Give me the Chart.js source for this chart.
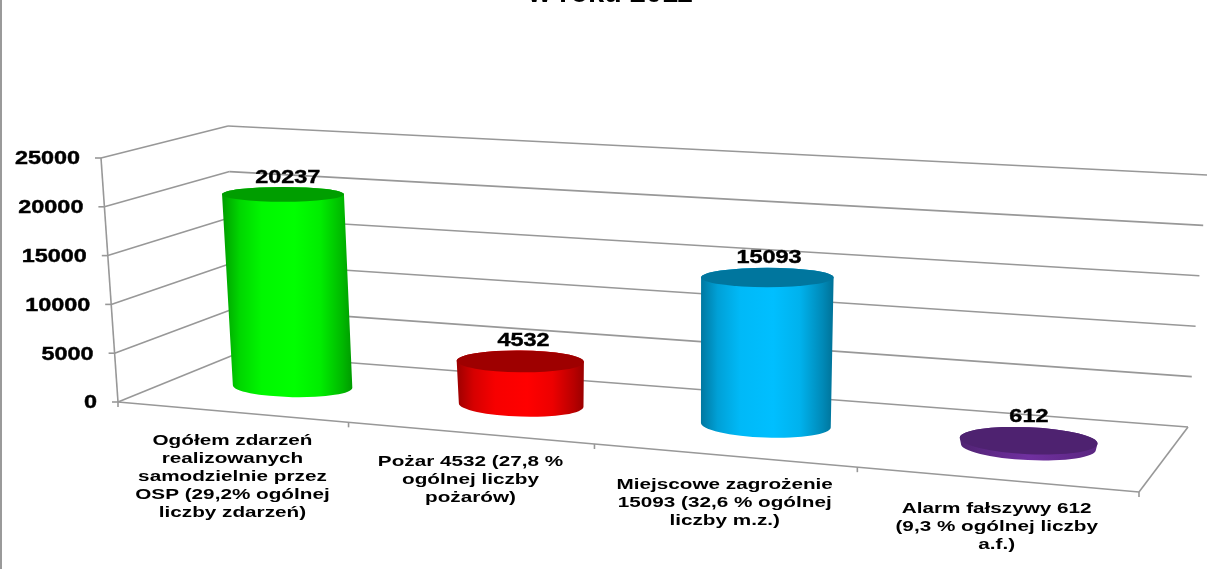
<!DOCTYPE html>
<html lang="pl">
<head>
<meta charset="utf-8">
<style>html,body{margin:0;padding:0;background:#fff}canvas{display:block}</style>
<script src="https://cdn.jsdelivr.net/npm/chart.js@4/dist/chart.umd.js"></script>
</head>
<body>
<canvas id="c" width="1209" height="569"></canvas>
<script>
const titleText = "w roku 2011";
const categories = [
  ["Ogółem zdarzeń", "realizowanych", "samodzielnie przez", "OSP (29,2% ogólnej", "liczby zdarzeń)"],
  ["Pożar 4532 (27,8 %", "ogólnej liczby", "pożarów)"],
  ["Miejscowe zagrożenie", "15093 (32,6 % ogólnej", "liczby m.z.)"],
  ["Alarm fałszywy 612", "(9,3 % ogólnej liczby", "a.f.)"]
];
const values = [20237, 4532, 15093, 612];
const barColors = ["#00ff00", "#ff0000", "#00bfff", "#7030a0"];
const yMax = 25000;
const yStep = 5000;

// 3D frame of the plot, as it appears in the picture
const FL0 = [118, 402], FL1 = [101, 158];      // front-left edge: value 0 / max
const BL0 = [236, 354], BL1 = [228, 126];      // back-left edge
const BR0 = [1188, 427], BR1 = [1207, 175];    // back-right edge
const FR0 = [1139, 492];                       // front-right floor corner
const PERSP = -0.125;
const STRETCH_VAL = 1.3, STRETCH_CAT = 1.38;
const GRID = "#989898";

const lerp = (a, b, t) => [a[0] + (b[0] - a[0]) * t, a[1] + (b[1] - a[1]) * t];
function front(u) {
  const x = ((FR0[0] - FL0[0] + PERSP * FR0[0]) * u + FL0[0]) / (PERSP * u + 1);
  return [x, FL0[1] + (x - FL0[0]) * (FR0[1] - FL0[1]) / (FR0[0] - FL0[0])];
}
function floorPt(u, v) {
  const f = front(u);
  const dL = [BL0[0] - FL0[0], BL0[1] - FL0[1]], dR = [BR0[0] - FR0[0], BR0[1] - FR0[1]];
  const d = lerp(dL, dR, u);
  return [f[0] + d[0] * v, f[1] + d[1] * v];
}
function shade(hex, k) {
  const n = parseInt(hex.slice(1), 16);
  const c = [n >> 16 & 255, n >> 8 & 255, n & 255].map(q => Math.round(q * k));
  return `rgb(${c[0]},${c[1]},${c[2]})`;
}
function seg(ctx, a, b) { ctx.beginPath(); ctx.moveTo(a[0], a[1]); ctx.lineTo(b[0], b[1]); ctx.stroke(); }

function cylinder(ctx, el, color, u) {
  const kh = 0.965 + 0.06 * u, kw = 0.925 + 0.165 * u, lean = -0.065 + 0.12 * u;
  const h = (el.base - el.y) * kh;
  const rx = el.width / 2 * kw;
  const b = floorPt(u, 0.55); b[0] += 1; b[1] += 2;
  const t = [b[0] + lean * h, b[1] - h];
  const ryOf = (y, r) => r * (0.122 + (y - 195) * 0.0003);
  const rotOf = y => Math.max(0, (y - 340) * 0.025) * Math.PI / 180;
  const rt = rx * 1.01, rb = rx * 0.99;
  const isDark = color === "#7030a0";
  const g = ctx.createLinearGradient(Math.min(t[0], b[0]) - rx, 0, Math.max(t[0], b[0]) + rx, 0);
  if (isDark) {
    g.addColorStop(0, shade(color, 0.72)); g.addColorStop(0.5, color); g.addColorStop(1, shade(color, 0.8));
  } else {
    g.addColorStop(0, shade(color, 0.62));
    g.addColorStop(0.13, shade(color, 0.84));
    g.addColorStop(0.3, shade(color, 0.97));
    g.addColorStop(0.55, color);
    g.addColorStop(0.75, shade(color, 0.93));
    g.addColorStop(0.92, shade(color, 0.72));
    g.addColorStop(1, shade(color, 0.6));
  }
  ctx.beginPath();
  ctx.ellipse(b[0], b[1], rb, ryOf(b[1], rb), rotOf(b[1]), 0, Math.PI);
  ctx.ellipse(t[0], t[1], rt, ryOf(t[1], rt), rotOf(t[1]), Math.PI, 2 * Math.PI);
  ctx.closePath();
  ctx.fillStyle = g; ctx.fill();
  ctx.beginPath();
  ctx.ellipse(t[0], t[1], rt, ryOf(t[1], rt), rotOf(t[1]), 0, 2 * Math.PI);
  ctx.fillStyle = shade(color, isDark ? 0.7 : 0.62); ctx.fill();
  return { x: t[0], y: t[1], ry: ryOf(t[1], rt), u };
}

const scene = {
  id: "scene",
  beforeDraw(chart) {
    const ctx = chart.ctx, sx = chart.scales.x, sy = chart.scales.y;
    ctx.save();
    ctx.fillStyle = "#fff"; ctx.fillRect(0, 0, chart.width, chart.height);
    ctx.fillStyle = "#9a9a9a"; ctx.fillRect(0, 0, 2, chart.height);
    ctx.restore();
    // place native tick labels along the slanted axes, widened like the picture
    sy.getLabelItems().forEach((it, i) => {
      const f = sy.ticks[i].value / yMax;
      const ax = lerp(FL0, FL1, f);
      it.options.textAlign = "right";
      it.options.translation = [(ax[0] - 21) / STRETCH_VAL, ax[1] + 1.5];
    });
    sx.getLabelItems().forEach((it, i) => {
      const p = front((i + 0.5) / categories.length);
      it.options.textAlign = "center";
      it.options.translation = [(p[0] + 1) / STRETCH_CAT, p[1] + 29 - 9];
    });
    const wrap = (scale, s) => {
      if (scale._wrapped) return;
      scale._wrapped = true;
      const orig = scale.drawLabels;
      scale.drawLabels = function (area) {
        ctx.save(); ctx.scale(s, 1); orig.call(this, area); ctx.restore();
      };
    };
    wrap(sy, STRETCH_VAL); wrap(sx, STRETCH_CAT);
    if (chart.titleBlock && !chart.titleBlock._wrapped) {
      chart.titleBlock._wrapped = true;
      const od = chart.titleBlock.draw;
      chart.titleBlock.draw = function () {
        ctx.save(); ctx.translate(41, 0); od.call(this); ctx.restore();
      };
    }
  },
  beforeDatasetsDraw(chart) {
    const ctx = chart.ctx, sy = chart.scales.y;
    ctx.save();
    ctx.strokeStyle = GRID; ctx.lineWidth = 1.6;
    sy.ticks.forEach(tk => {
      const f = (sy.bottom - sy.getPixelForValue(tk.value)) / sy.height;
      const a = lerp(FL0, FL1, f), b = lerp(BL0, BL1, f), c = lerp(BR0, BR1, f);
      seg(ctx, [a[0] - 6, a[1]], a);
      seg(ctx, a, b);
      seg(ctx, b, c);
    });
    seg(ctx, FL0, FL1);
    seg(ctx, FL0, FR0);
    seg(ctx, FR0, BR0);
    for (let i = 0; i <= categories.length; i++) {
      const p = front(i / categories.length);
      seg(ctx, p, [p[0], p[1] + 5]);
    }
    ctx.restore();
  },
  beforeDatasetDraw(chart, args) {
    const ctx = chart.ctx, sx = chart.scales.x;
    const meta = args.meta;
    const tops = [];
    ctx.save();
    meta.data.forEach((el, i) => {
      const u = (el.x - sx.left) / sx.width;
      tops.push(cylinder(ctx, el, chart.data.datasets[0].backgroundColor[i], u));
    });
    ctx.fillStyle = "#000"; ctx.strokeStyle = "#000"; ctx.lineWidth = 0.4;
    ctx.font = 'bold 18px "Liberation Sans"';
    ctx.textAlign = "center"; ctx.textBaseline = "middle";
    tops.forEach((t, i) => {
      ctx.save();
      ctx.translate(t.x + 3.5 - 6 * t.u + 2, t.y - (7 + 1.25 * t.ry));
      ctx.scale(STRETCH_VAL, 1);
      ctx.fillText(String(values[i]), 0, 0);
      ctx.strokeText(String(values[i]), 0, 0);
      ctx.restore();
    });
    ctx.restore();
    return false;
  }
};

new Chart(document.getElementById("c"), {
  type: "bar",
  data: {
    labels: categories,
    datasets: [{ data: values, backgroundColor: barColors, barPercentage: 0.5, categoryPercentage: 1 }]
  },
  options: {
    responsive: false,
    animation: false,
    layout: { autoPadding: false, padding: { top: 158, right: 70, left: 0, bottom: 0 } },
    plugins: {
      legend: { display: false },
      tooltip: { enabled: false },
      title: {
        display: true,
        text: titleText,
        color: "#000",
        font: { family: '"Liberation Sans"', size: 29, weight: "bold", lineHeight: 1.2 },
        padding: { top: -181.4, bottom: 146.6 }
      }
    },
    scales: {
      x: {
        grid: { display: false },
        border: { display: false },
        ticks: {
          autoSkip: false, maxRotation: 0, minRotation: 0, color: "#000",
          font: { family: '"Liberation Sans"', size: 15, weight: "bold", lineHeight: 1.2 }
        },
        afterFit(s) { s.height = 167; }
      },
      y: {
        min: 0, max: yMax,
        grid: { display: false },
        border: { display: false },
        ticks: {
          stepSize: yStep, color: "#000", callback: v => String(v),
          textStrokeColor: "#000", textStrokeWidth: 0.4,
          font: { family: '"Liberation Sans"', size: 18, weight: "bold" }
        },
        afterFit(s) { s.width = 118; }
      }
    }
  },
  plugins: [scene]
});
</script>
</body>
</html>
